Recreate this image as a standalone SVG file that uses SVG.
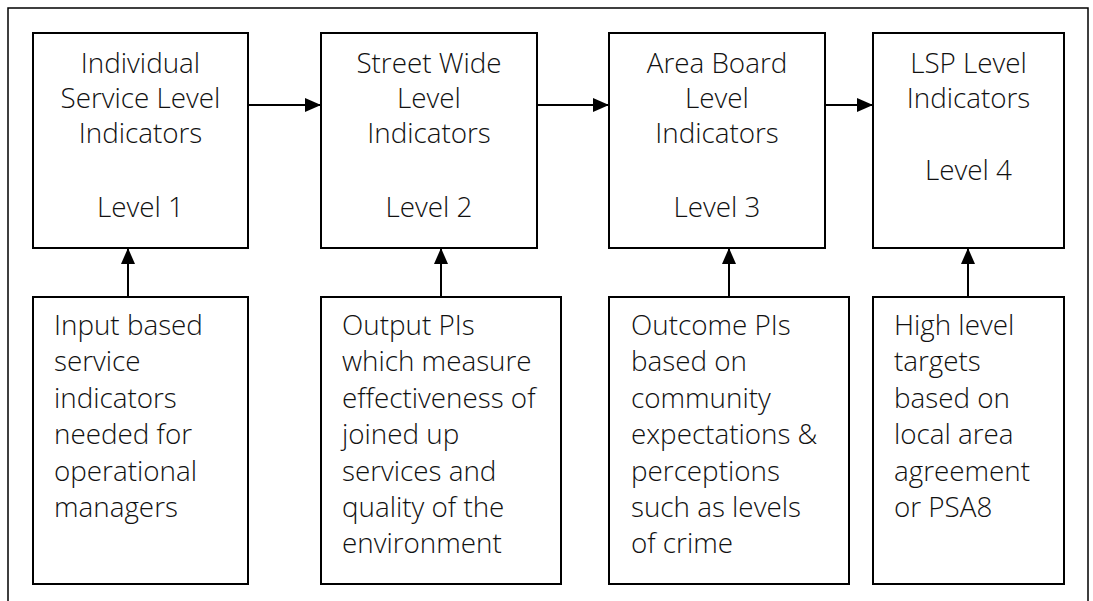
<svg xmlns="http://www.w3.org/2000/svg" width="1093" height="601" viewBox="0 0 1093 601">
  <style>
    .box { fill: #ffffff; stroke: #000000; stroke-width: 2; }
    .frame { fill: none; stroke: #000000; stroke-width: 1.5; }
    .conn { stroke: #000000; stroke-width: 2; fill: none; marker-end: url(#arrow); }
    .t { font-family: "Open Sans", "Noto Sans", "Liberation Sans", sans-serif; font-weight: 300; font-size: 27.8px; fill: #111111; }
    .c { text-anchor: middle; }
  </style>
  <defs>
    <marker id="arrow" viewBox="0 0 16 14" refX="16" refY="7" markerWidth="16" markerHeight="14" markerUnits="userSpaceOnUse" orient="auto">
      <path d="M0,0 L16,7 L0,14 z" fill="#000000"/>
    </marker>
  </defs>
  <rect width="1093" height="601" fill="#ffffff"/>
  <path class="frame" d="M8,605 L8,8 L1088,8 L1088,605"/>

  <g id="level1">
    <rect class="box" x="33" y="33" width="215" height="215"/>
    <text class="t c" x="140.5" y="73">Individual</text>
    <text class="t c" x="140.5" y="108">Service Level</text>
    <text class="t c" x="140.5" y="143">Indicators</text>
    <text class="t c" x="140.5" y="217">Level 1</text>
  </g>
  <g id="level2">
    <rect class="box" x="321" y="33" width="216" height="215"/>
    <text class="t c" x="429" y="73">Street Wide</text>
    <text class="t c" x="429" y="108">Level</text>
    <text class="t c" x="429" y="143">Indicators</text>
    <text class="t c" x="429" y="217">Level 2</text>
  </g>
  <g id="level3">
    <rect class="box" x="609" y="33" width="216" height="215"/>
    <text class="t c" x="717" y="73">Area Board</text>
    <text class="t c" x="717" y="108">Level</text>
    <text class="t c" x="717" y="143">Indicators</text>
    <text class="t c" x="717" y="217">Level 3</text>
  </g>
  <g id="level4">
    <rect class="box" x="873" y="33" width="191" height="215"/>
    <text class="t c" x="968.5" y="73">LSP Level</text>
    <text class="t c" x="968.5" y="108">Indicators</text>
    <text class="t c" x="968.5" y="180">Level 4</text>
  </g>

  <g id="input">
    <rect class="box" x="33" y="297" width="215" height="287"/>
    <text class="t" x="54" y="335">Input based</text>
    <text class="t" x="54" y="371">service</text>
    <text class="t" x="54" y="408">indicators</text>
    <text class="t" x="54" y="444">needed for</text>
    <text class="t" x="54" y="481">operational</text>
    <text class="t" x="54" y="517">managers</text>
  </g>
  <g id="output">
    <rect class="box" x="321" y="297" width="240" height="287"/>
    <text class="t" x="342" y="335">Output PIs</text>
    <text class="t" x="342" y="371">which measure</text>
    <text class="t" x="342" y="408">effectiveness of</text>
    <text class="t" x="342" y="444">joined up</text>
    <text class="t" x="342" y="481">services and</text>
    <text class="t" x="342" y="517">quality of the</text>
    <text class="t" x="342" y="553">environment</text>
  </g>
  <g id="outcome">
    <rect class="box" x="609" y="297" width="240" height="287"/>
    <text class="t" x="631" y="335">Outcome PIs</text>
    <text class="t" x="631" y="371">based on</text>
    <text class="t" x="631" y="408">community</text>
    <text class="t" x="631" y="444">expectations &amp;</text>
    <text class="t" x="631" y="481">perceptions</text>
    <text class="t" x="631" y="517">such as levels</text>
    <text class="t" x="631" y="553">of crime</text>
  </g>
  <g id="targets">
    <rect class="box" x="873" y="297" width="191" height="287"/>
    <text class="t" x="894" y="335">High level</text>
    <text class="t" x="894" y="371">targets</text>
    <text class="t" x="894" y="408">based on</text>
    <text class="t" x="894" y="444">local area</text>
    <text class="t" x="894" y="481">agreement</text>
    <text class="t" x="894" y="517">or PSA8</text>
  </g>

  <g id="connectors">
    <line class="conn" x1="248" y1="105" x2="321" y2="105"/>
    <line class="conn" x1="537" y1="105" x2="609" y2="105"/>
    <line class="conn" x1="825" y1="105" x2="873" y2="105"/>
    <line class="conn" x1="128" y1="297" x2="128" y2="248"/>
    <line class="conn" x1="441" y1="297" x2="441" y2="248"/>
    <line class="conn" x1="729" y1="297" x2="729" y2="248"/>
    <line class="conn" x1="968" y1="297" x2="968" y2="248"/>
  </g>
</svg>
